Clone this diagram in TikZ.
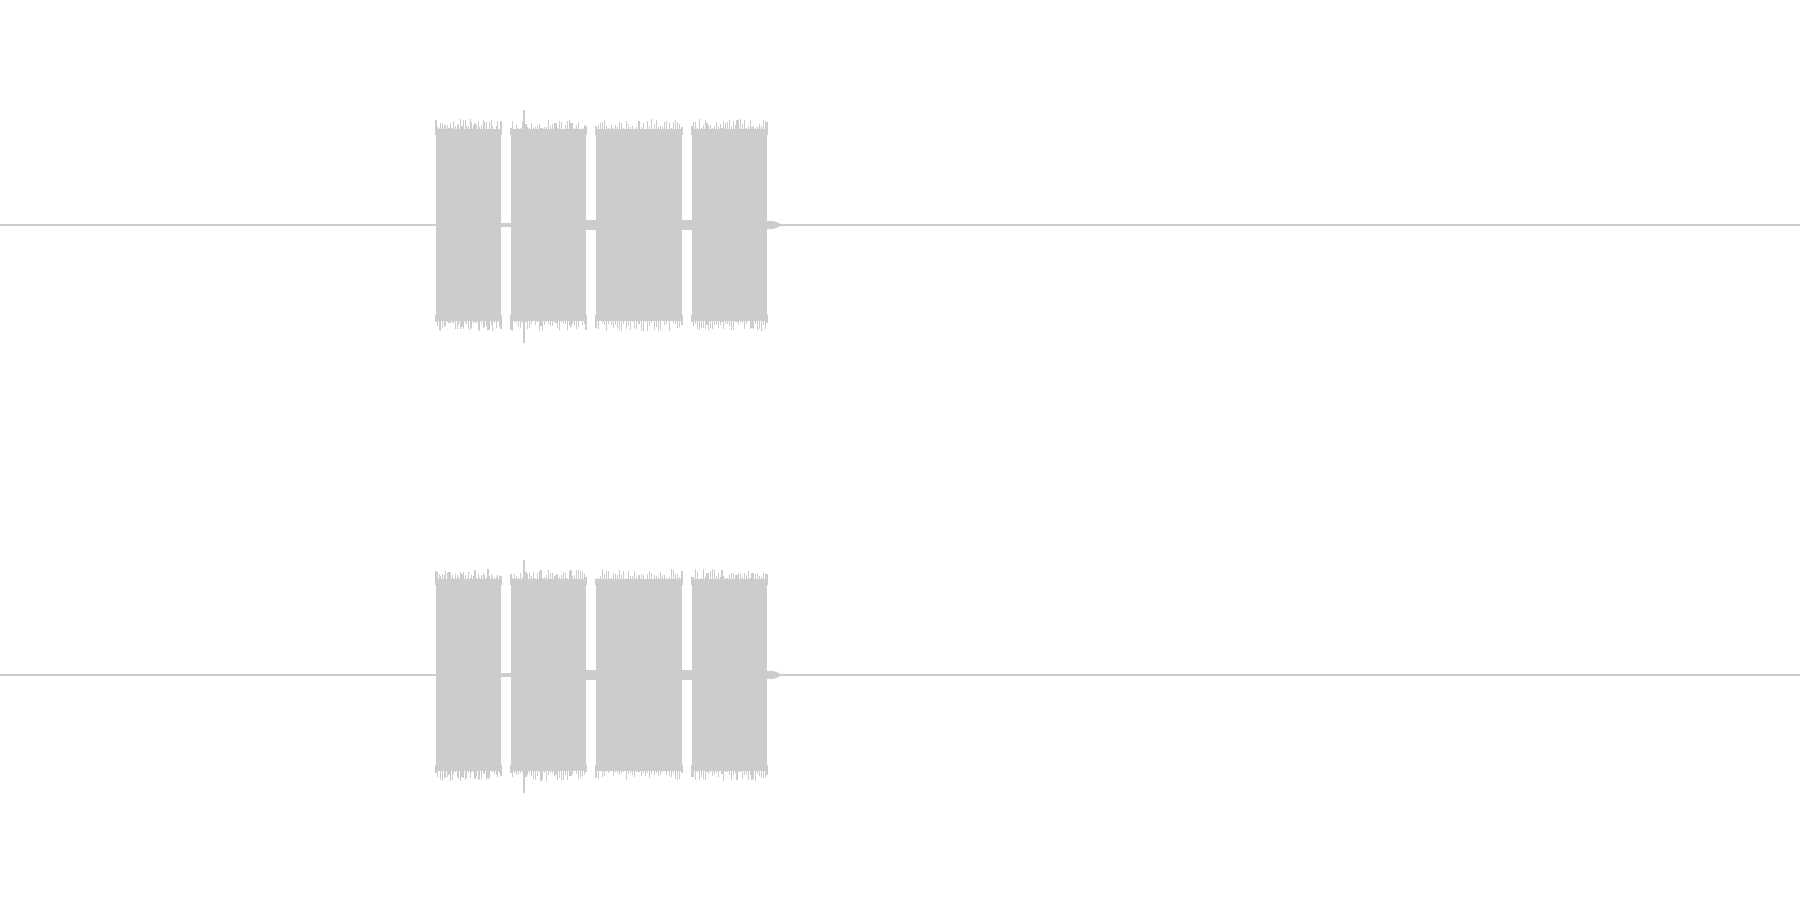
\documentclass[tikz,border=0pt]{standalone}
\tikzset{wave/.style={fill=black!20,draw=none},
  axisline/.style={black!20,line width=0.4pt},
  tick/.style={black!20,line width=0.3pt}}
\begin{document}
\begin{tikzpicture}
\useasboundingbox (0,0) rectangle (18,9);
\pgfmathsetseed{7}
\foreach \cy in {6.75,2.25}{
  \draw[axisline] (0,\cy) -- (18,\cy);
  % bursts
  \foreach \xa/\xb in {4.36/5.01,5.11/5.86,5.96/6.82,6.92/7.67}{
    \fill[wave] (\xa,\cy-0.96) rectangle (\xb,\cy+0.96);
    \foreach \t in {0,...,40}{
      \pgfmathsetmacro{\xx}{\xa+(\xb-\xa)*\t/40}
      \pgfmathsetmacro{\hu}{0.96+0.1*rnd}
      \pgfmathsetmacro{\hd}{0.96+0.1*rnd}
      \draw[tick] (\xx,\cy+0.9) -- (\xx,\cy+\hu);
      \draw[tick] (\xx,\cy-0.9) -- (\xx,\cy-\hd);
    }
  }
  % spike and small gaps
  \draw[tick] (5.24,\cy-1.18) -- (5.24,\cy+1.15);
  \fill[wave] (5.01,\cy-0.02) rectangle (5.11,\cy+0.02);
  \fill[wave] (5.86,\cy-0.05) rectangle (5.96,\cy+0.05);
  \fill[wave] (6.82,\cy-0.05) rectangle (6.92,\cy+0.05);
  \fill[wave] (7.67,\cy-0.04) .. controls (7.75,\cy-0.04) .. (7.82,\cy) .. controls (7.75,\cy+0.04) .. (7.67,\cy+0.04) -- cycle;
}
\end{tikzpicture}
\end{document}
